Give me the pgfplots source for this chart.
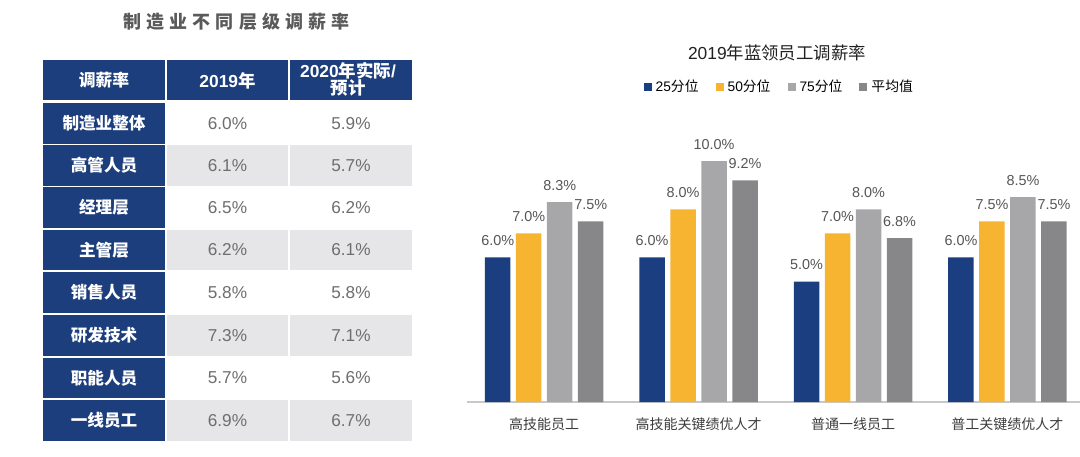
\documentclass[border=0pt]{standalone}
\usepackage{fontspec}
\setmainfont{Liberation Sans}
\newfontfamily\cjk{Noto Sans CJK SC}
\newfontfamily\cjkls{Noto Sans CJK SC}[LetterSpace=28]
\usepackage{pgfplots}
\pgfplotsset{compat=1.18}
\definecolor{navy}{RGB}{28,62,125}
\definecolor{cA}{RGB}{27,62,128}
\definecolor{cB}{RGB}{246,180,49}
\definecolor{cC}{RGB}{167,166,169}
\definecolor{cD}{RGB}{135,134,137}
\definecolor{stripe}{RGB}{230,230,232}
\definecolor{numgray}{RGB}{110,110,110}
\definecolor{titlegray}{RGB}{90,90,90}
\definecolor{axisgray}{RGB}{200,200,200}
\definecolor{valgray}{RGB}{85,85,85}
\definecolor{labgray}{RGB}{60,60,60}
\begin{document}
\begin{tikzpicture}
\useasboundingbox (0,0) rectangle (540pt,228pt);
\begin{scope}[shift={(0pt,228pt)},x=0.5pt,y=-0.5pt]
  \node[text=titlegray,font=\cjkls\bfseries\fontsize{9pt}{10pt}\selectfont] at (236.5,22) {制造业不同层级调薪率};
  \fill[navy] (43,60) rectangle (165,100);
  \fill[navy] (167,60) rectangle (288,100);
  \fill[navy] (290,60) rectangle (412,100);
  \node[text=white,font=\cjk\bfseries\fontsize{8.4pt}{10pt}\selectfont] at (104,80.5) {调薪率};
  \node[text=white,font=\bfseries\fontsize{8.7pt}{10pt}\selectfont] at (227.5,80.5) {2019{\cjk 年}};
  \node[text=white,font=\bfseries\fontsize{8.7pt}{8.4pt}\selectfont,align=center] at (348,79) {2020{\cjk 年实际}/\\{\cjk 预计}};
  \foreach \t/\lab/\a/\b/\sh in {103/制造业整体/6.0/5.9/white,145/高管人员/6.1/5.7/stripe,187/经理层/6.5/6.2/white,229.5/主管层/6.2/6.1/stripe,272/销售人员/5.8/5.8/white,315/研发技术/7.3/7.1/stripe,357.5/职能人员/5.7/5.6/white,400/一线员工/6.9/6.7/stripe}{
    \fill[navy] (43,\t) rectangle (165,{\t+40.5});
    \fill[\sh] (167,\t) rectangle (288,{\t+40.5});
    \fill[\sh] (290,\t) rectangle (412,{\t+40.5});
    \node[text=white,font=\cjk\bfseries\fontsize{8.3pt}{10pt}\selectfont] at (104,{\t+20.5}) {\lab};
    \node[text=numgray,font=\fontsize{8.6pt}{10pt}\selectfont] at (227.5,{\t+20.5}) {\a\%};
    \node[text=numgray,font=\fontsize{8.6pt}{10pt}\selectfont] at (351,{\t+20.5}) {\b\%};
  }
  \node[text=black!87,font=\fontsize{8.7pt}{10pt}\selectfont] at (777,53) {2019{\cjk 年蓝领员工调薪率}};
\end{scope}
\begin{axis}[
  at={(233.5pt,27pt)}, anchor=south west,
  scale only axis, width=306.5pt, height=132.5pt,
  xmin=-0.5, xmax=3.47, ymin=0, ymax=11,
  ybar=2.75pt, bar width=12.75pt,
  axis x line*=bottom, axis y line=none,
  x axis line style={draw=axisgray, line width=0.6pt},
  xtick={0,1,2,3},
  xticklabels={高技能员工,高技能关键绩优人才,普通一线员工,普工关键绩优人才},
  xticklabel style={font=\cjk\fontsize{7pt}{8pt}\selectfont, text=labgray, yshift=-4.5pt},
  major tick length=0pt,
  ytick=\empty,
  /pgf/number format/assume math mode=true,
  nodes near coords={\pgfmathprintnumber[fixed,fixed zerofill,precision=1,assume math mode=true]{\pgfplotspointmeta}\%},
  every node near coord/.append style={font=\fontsize{7.2pt}{8pt}\selectfont, text=valgray, yshift=2.3pt},
  legend columns=4,
  legend style={at={(0.511,1.189)}, anchor=center, draw=none, fill=none,
    font=\fontsize{6.9pt}{8pt}\selectfont,
    /tikz/every even column/.append style={column sep=6.5pt}},
  legend image code/.code={\fill[#1] (0pt,-2pt) rectangle (4pt,2pt);},
  clip=false,
]
\addplot[fill=cA, draw=none] coordinates {(0,6.0) (1,6.0) (2,5.0) (3,6.0)};
\addplot[fill=cB, draw=none] coordinates {(0,7.0) (1,8.0) (2,7.0) (3,7.5)};
\addplot[fill=cC, draw=none] coordinates {(0,8.3) (1,10.0) (2,8.0) (3,8.5)};
\addplot[fill=cD, draw=none] coordinates {(0,7.5) (1,9.2) (2,6.8) (3,7.5)};
\legend{25{\cjk 分位},50{\cjk 分位},75{\cjk 分位},{\cjk 平均值}}
\end{axis}
\end{tikzpicture}
\end{document}
